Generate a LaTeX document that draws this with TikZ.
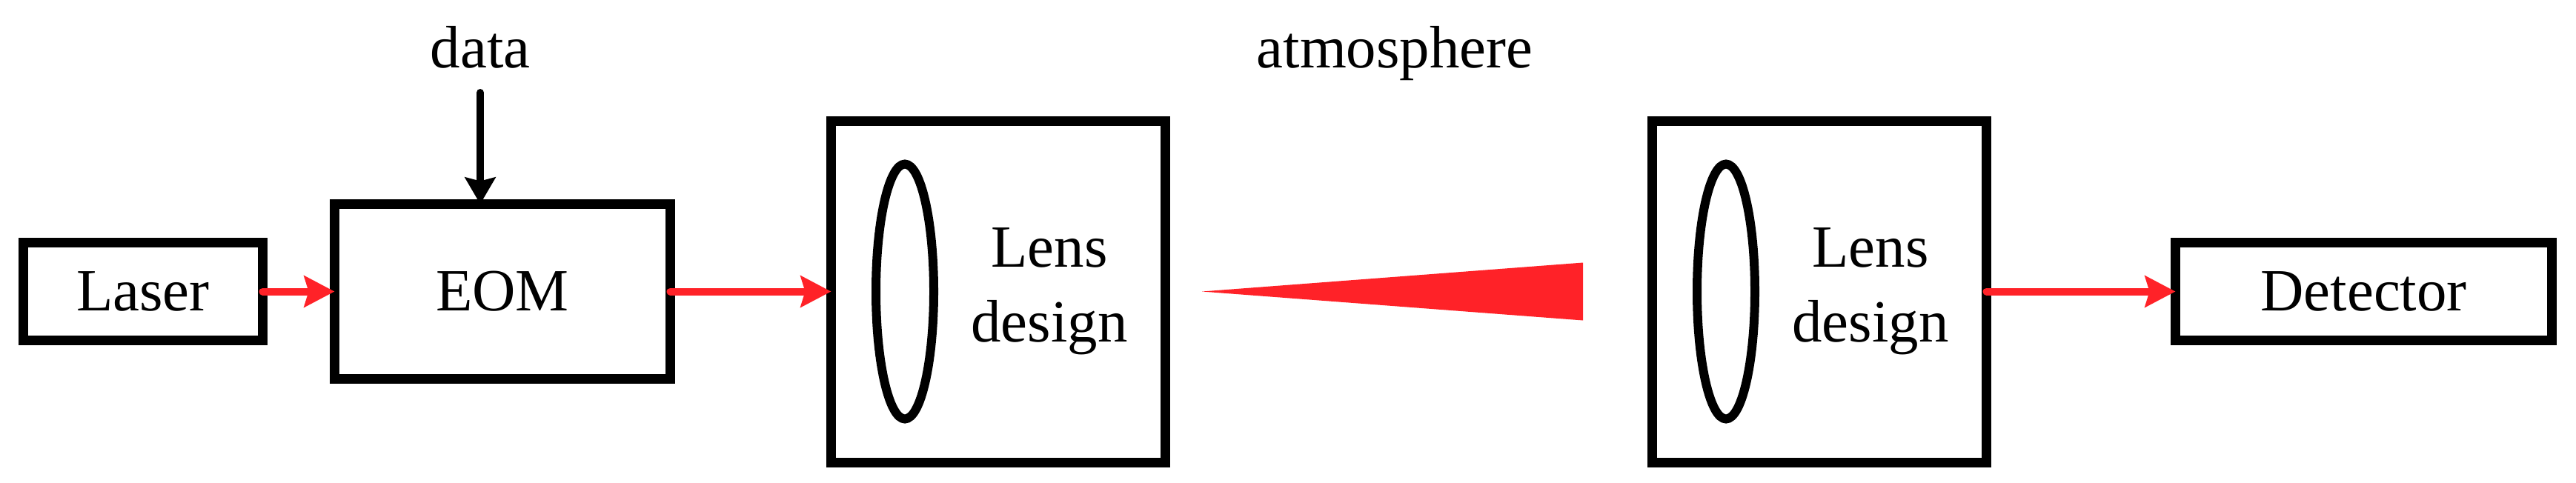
\documentclass[tikz,border=0pt]{standalone}
\usepackage{fontspec}
\setmainfont{Liberation Serif}
\usepackage{tikz}
\usetikzlibrary{shapes, positioning, arrows.meta}
\definecolor{beam}{RGB}{255,34,40}

\begin{document}
\begin{tikzpicture}[font=\fontsize{23}{28.7}\selectfont,
    box/.style = {draw, line width=0.13cm, inner sep=0pt, outer sep=0pt},
    lens/.style = {draw, ellipse, line width=0.12cm, inner sep=0pt, minimum width=0.78cm, minimum height=3.44cm},
    ray/.style = {beam, line width=0.10cm, line cap=round, -{Stealth[length=0.41cm, width=0.42cm, inset=0.06cm]}}]
    \useasboundingbox (0,0) rectangle (34.76,6.51);

    \node[box, minimum width=3.23cm, minimum height=1.32cm] (laser) at (1.93,2.575) {Laser};
    \node[box, minimum width=4.53cm, minimum height=2.36cm] (eom) [right=0.97cm of laser] {EOM};
    \node[box, minimum width=4.51cm, minimum height=4.61cm] (lens1) [right=2.17cm of eom] {};
    \node[box, minimum width=4.51cm, minimum height=4.61cm] (lens2) [right=6.57cm of lens1] {};
    \node[box, minimum width=5.08cm, minimum height=1.32cm] (det) [right=2.55cm of lens2] {Detector};

    \node[lens] (ell1) at ([xshift=-1.26cm]lens1.center) {};
    \node[lens] (ell2) at ([xshift=-1.26cm]lens2.center) {};
    \node[align=center] (txt1) at ([xshift=0.69cm]lens1.center) {Lens\\design};
    \node[align=center] (txt2) at ([xshift=0.69cm]lens2.center) {Lens\\design};

    \coordinate (datain) at ([xshift=-0.30cm, yshift=1.505cm]eom.north);
    \node[anchor=base] (data) at ([yshift=0.34cm]datain) {data};
    \node[anchor=base] (atm) at (18.82,5.60) {atmosphere};

    \coordinate (tip) at ([xshift=0.495cm]lens1.east);
    \coordinate (wide) at ([xshift=-0.935cm]lens2.west);
    \fill[beam] (tip) -- ([yshift=0.39cm]wide) -- ([yshift=-0.39cm]wide) -- cycle;

    \draw[ray] (laser) -- (eom);
    \draw[ray] (eom) -- (lens1);
    \draw[ray] (lens2) -- (det);
    \draw[line width=0.10cm, line cap=round, -{Stealth[length=0.36cm, width=0.41cm, inset=0.05cm]}] (datain) -- (datain |- eom.north);
\end{tikzpicture}
\end{document}
